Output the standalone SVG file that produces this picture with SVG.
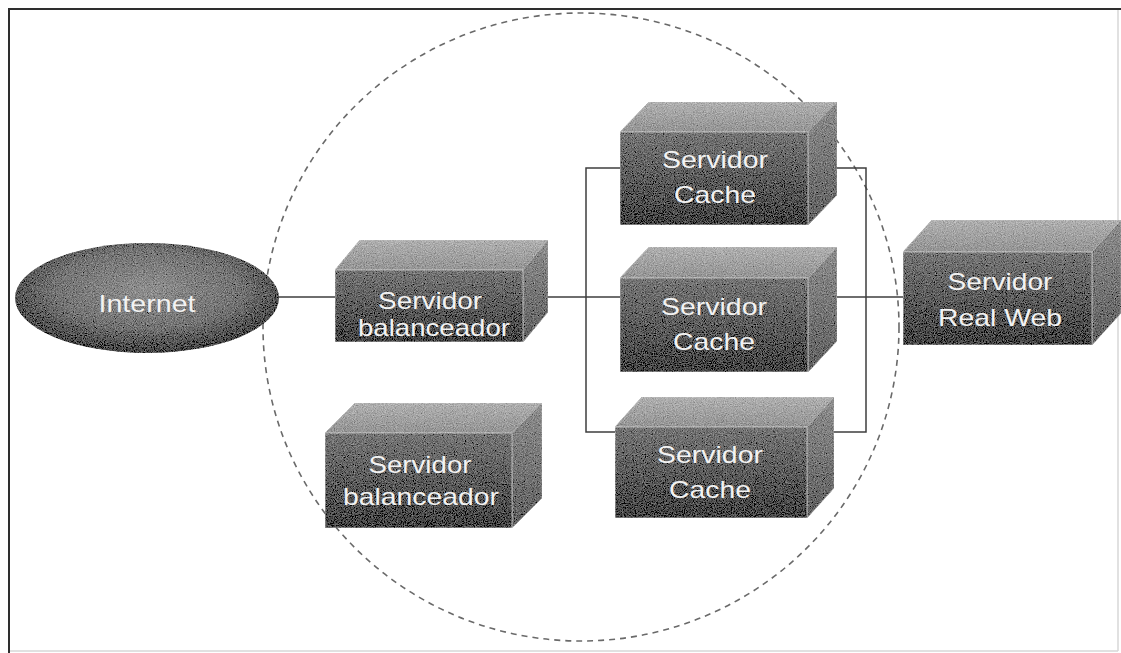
<svg xmlns="http://www.w3.org/2000/svg" width="1121" height="653" viewBox="0 0 1121 653">
  <style>
    .frame { stroke: #2e2e2e; stroke-width: 2; fill: none; }
    .frame-faint { stroke: #d8d8d8; stroke-width: 1.5; fill: none; }
    .zone { fill: none; stroke: #6a6a6a; stroke-width: 1.6; stroke-dasharray: 6 5; }
    .link { fill: none; stroke: #3e3e3e; stroke-width: 1.5; }
    .front { fill: url(#gFront); stroke: #c8c8c8; stroke-width: 0.8; }
    .top { fill: url(#gTop); stroke: #c8c8c8; stroke-width: 0.6; }
    .side { fill: url(#gSide); stroke: #b0b0b0; stroke-width: 0.6; }
    .solid { filter: url(#grain); }
    .label { font-family: "Liberation Sans", Arial, sans-serif; font-size: 24px; fill: #f2f2f2; text-anchor: middle; }
  </style>
  <defs>
    <linearGradient id="gFront" x1="0" y1="0" x2="0" y2="1">
      <stop offset="0" stop-color="#767676"/>
      <stop offset="1" stop-color="#454545"/>
    </linearGradient>
    <linearGradient id="gTop" x1="0" y1="0" x2="0" y2="1">
      <stop offset="0" stop-color="#b0b0b0"/>
      <stop offset="1" stop-color="#959595"/>
    </linearGradient>
    <linearGradient id="gSide" x1="0" y1="0" x2="0" y2="1">
      <stop offset="0" stop-color="#8e8e8e"/>
      <stop offset="1" stop-color="#606060"/>
    </linearGradient>
    <radialGradient id="gCloud" cx="0.5" cy="0.42" r="0.55">
      <stop offset="0" stop-color="#909090"/>
      <stop offset="0.65" stop-color="#747474"/>
      <stop offset="1" stop-color="#4a4a4a"/>
    </radialGradient>
    <!-- printed-paper grain on the solid shapes -->
    <filter id="grain" x="0" y="0" width="100%" height="100%">
      <feTurbulence type="fractalNoise" baseFrequency="0.9" numOctaves="2" seed="7" result="noise"/>
      <feColorMatrix in="noise" type="matrix" values="0.33 0.33 0.33 0 0  0.33 0.33 0.33 0 0  0.33 0.33 0.33 0 0  0 0 0 0 1" result="gray"/>
      <feComposite in="SourceGraphic" in2="gray" operator="arithmetic" k1="0" k2="1" k3="0.9" k4="-0.45" result="mix"/>
      <feComposite in="mix" in2="SourceGraphic" operator="in"/>
    </filter>
  </defs>

  <rect width="1121" height="653" fill="#ffffff"/>

  <!-- outer frame -->
  <g id="frame">
    <path class="frame-faint" d="M1118,9 V651 M9,651 H1118"/>
    <path class="frame" d="M9,653 V9 H1121"/>
  </g>

  <!-- dashed cluster boundary -->
  <ellipse id="cluster" class="zone" cx="581" cy="327" rx="318" ry="314"/>

  <!-- connectors -->
  <g id="connectors">
    <path class="link" d="M278,297 H335"/>
    <path class="link" d="M523,297 H620"/>
    <path class="link" d="M620,168 H586 V432 H615"/>
    <path class="link" d="M808,168 H866 V432 H807"/>
    <path class="link" d="M808,297 H903"/>
  </g>

  <!-- nodes -->
  <g id="internet">
    <ellipse class="solid" cx="147" cy="298" rx="132" ry="55" fill="url(#gCloud)"/>
    <text class="label" x="147" y="312" textLength="97" lengthAdjust="spacingAndGlyphs">Internet</text>
  </g>

  <g id="balanceador1">
    <g class="solid">
      <polygon class="top" points="335,270 360,240 548,240 523,270"/>
      <polygon class="side" points="523,270 548,240 548,312 523,342"/>
      <polygon class="front" points="335,270 523,270 523,342 335,342"/>
    </g>
    <text class="label" x="430" y="309" textLength="104" lengthAdjust="spacingAndGlyphs">Servidor</text>
    <text class="label" x="434" y="336" textLength="152" lengthAdjust="spacingAndGlyphs">balanceador</text>
  </g>

  <g id="balanceador2">
    <g class="solid">
      <polygon class="top" points="325,433 355,403 542,403 512,433"/>
      <polygon class="side" points="512,433 542,403 542,498 512,528"/>
      <polygon class="front" points="325,433 512,433 512,528 325,528"/>
    </g>
    <text class="label" x="420" y="473" textLength="103" lengthAdjust="spacingAndGlyphs">Servidor</text>
    <text class="label" x="421" y="505" textLength="156" lengthAdjust="spacingAndGlyphs">balanceador</text>
  </g>

  <g id="cache1">
    <g class="solid">
      <polygon class="top" points="620,132 649,102 837,102 808,132"/>
      <polygon class="side" points="808,132 837,102 837,195 808,225"/>
      <polygon class="front" points="620,132 808,132 808,225 620,225"/>
    </g>
    <text class="label" x="715" y="168" textLength="106" lengthAdjust="spacingAndGlyphs">Servidor</text>
    <text class="label" x="715" y="203" textLength="82" lengthAdjust="spacingAndGlyphs">Cache</text>
  </g>

  <g id="cache2">
    <g class="solid">
      <polygon class="top" points="620,278 649,247 837,247 808,278"/>
      <polygon class="side" points="808,278 837,247 837,341 808,372"/>
      <polygon class="front" points="620,278 808,278 808,372 620,372"/>
    </g>
    <text class="label" x="714" y="315" textLength="106" lengthAdjust="spacingAndGlyphs">Servidor</text>
    <text class="label" x="714" y="350" textLength="82" lengthAdjust="spacingAndGlyphs">Cache</text>
  </g>

  <g id="cache3">
    <g class="solid">
      <polygon class="top" points="615,427 642,397 834,397 807,427"/>
      <polygon class="side" points="807,427 834,397 834,488 807,518"/>
      <polygon class="front" points="615,427 807,427 807,518 615,518"/>
    </g>
    <text class="label" x="710" y="463" textLength="106" lengthAdjust="spacingAndGlyphs">Servidor</text>
    <text class="label" x="710" y="498" textLength="82" lengthAdjust="spacingAndGlyphs">Cache</text>
  </g>

  <g id="realweb">
    <g class="solid">
      <polygon class="top" points="903,252 932,220 1121,220 1092,252"/>
      <polygon class="side" points="1092,252 1121,220 1121,313 1092,345"/>
      <polygon class="front" points="903,252 1092,252 1092,345 903,345"/>
    </g>
    <text class="label" x="1000" y="290" textLength="105" lengthAdjust="spacingAndGlyphs">Servidor</text>
    <text class="label" x="1000" y="326" textLength="124" lengthAdjust="spacingAndGlyphs">Real Web</text>
  </g>
</svg>
